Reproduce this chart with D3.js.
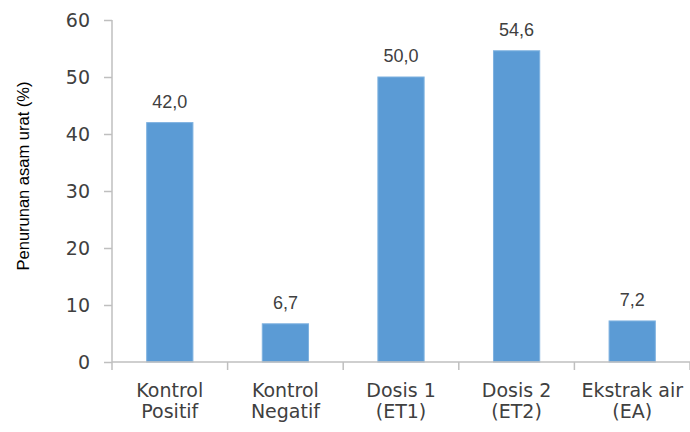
<!DOCTYPE html>
<html>
<head>
<meta charset="utf-8">
<script src="https://cdn.jsdelivr.net/npm/d3@7"></script>
<style>
  html, body { margin: 0; padding: 0; background: #fff; }
  svg { display: block; }
</style>
</head>
<body>
<svg id="chart" width="690" height="432"></svg>
<script>
// Data: reduction in uric acid (%) per treatment group
const categories = [
  ["Kontrol", "Positif"],
  ["Kontrol", "Negatif"],
  ["Dosis 1", "(ET1)"],
  ["Dosis 2", "(ET2)"],
  ["Ekstrak air", "(EA)"]
];
const values = [42.0, 6.7, 50.0, 54.6, 7.2];
const valueLabels = ["42,0", "6,7", "50,0", "54,6", "7,2"];
const yTicks = [0, 10, 20, 30, 40, 50, 60];
const yTitle = "Penurunan asam urat (%)";

const svg = d3.select("#chart");
const textColor = "#404040";
const axisColor = "#bfbfbf";
const barColor = "#5b9bd5";

const plotLeft = 112, plotRight = 690, plotTop = 20, plotBottom = 362;

const x = d3.scaleBand()
  .domain(d3.range(categories.length))
  .range([plotLeft, plotRight])
  .paddingInner(0.6)
  .paddingOuter(0.3);
const step = x.step();
const cx = i => x(i) + x.bandwidth() / 2;

const y = d3.scaleLinear().domain([0, 60]).range([plotBottom, plotTop]);

// Bars
svg.append("g").selectAll("rect")
  .data(values)
  .join("rect")
  .attr("x", (d, i) => x(i))
  .attr("width", x.bandwidth())
  .attr("y", d => y(d))
  .attr("height", d => y(0) - y(d))
  .attr("fill", barColor)
  .attr("stroke", "#7fb2e0")
  .attr("stroke-width", 1);

// Value labels
svg.append("g").selectAll("text")
  .data(values)
  .join("text")
  .attr("x", (d, i) => cx(i))
  .attr("y", d => y(d) - 15)
  .attr("text-anchor", "middle")
  .attr("font-family", "Liberation Sans, Arial, sans-serif")
  .attr("font-size", 18)
  .attr("fill", textColor)
  .text((d, i) => valueLabels[i]);

// Y axis
const yAxis = d3.axisLeft(y)
  .tickValues(yTicks)
  .tickFormat(d3.format("d"))
  .tickSize(8)
  .tickPadding(14);

const gy = svg.append("g")
  .attr("transform", `translate(${plotLeft},0)`)
  .call(yAxis);
gy.select(".domain").attr("stroke", axisColor).attr("stroke-width", 1.5)
  .attr("d", `M0,${plotTop}V${plotBottom}`);
gy.selectAll(".tick line").attr("stroke", axisColor).attr("stroke-width", 1.5);
gy.selectAll(".tick text")
  .attr("font-family", "DejaVu Sans, sans-serif")
  .attr("font-size", 19)
  .attr("fill", textColor);

// X axis baseline and category boundary ticks
const xEdges = d3.range(categories.length + 1).map(i => x(0) - step * 0.3 + step * i);
const gx = svg.append("g");
gx.append("line")
  .attr("x1", plotLeft).attr("x2", plotRight)
  .attr("y1", plotBottom).attr("y2", plotBottom)
  .attr("stroke", axisColor).attr("stroke-width", 1.5);
gx.selectAll("line.tk")
  .data(xEdges)
  .join("line")
  .attr("class", "tk")
  .attr("x1", d => d).attr("x2", d => d)
  .attr("y1", plotBottom).attr("y2", plotBottom + 8)
  .attr("stroke", axisColor).attr("stroke-width", 1.5);

// Category labels (two lines each)
const cat = gx.selectAll("text.cat")
  .data(categories)
  .join("text")
  .attr("class", "cat")
  .attr("text-anchor", "middle")
  .attr("font-family", "DejaVu Sans, sans-serif")
  .attr("font-size", 19)
  .attr("fill", textColor);
cat.selectAll("tspan")
  .data((d, i) => d.map(t => ({ t, i })))
  .join("tspan")
  .attr("x", d => cx(d.i))
  .attr("y", (d, j) => 397 + j * 21)
  .text(d => d.t);

// Y axis title
svg.append("text")
  .attr("transform", `translate(29,${(84 + 268) / 2}) rotate(-90)`)
  .attr("text-anchor", "middle")
  .attr("font-family", "Liberation Sans, Arial, sans-serif")
  .attr("font-size", 16.5)
  .attr("fill", "#000")
  .text(yTitle);
</script>
</body>
</html>
